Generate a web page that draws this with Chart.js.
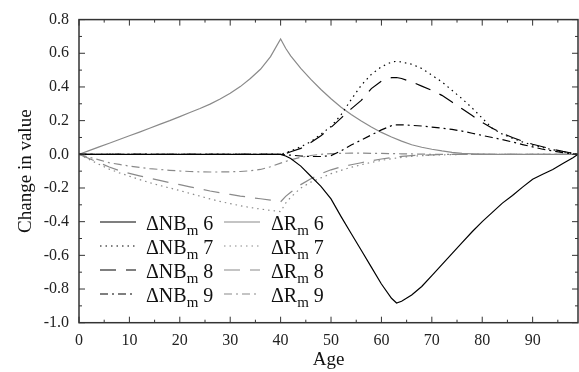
<!DOCTYPE html>
<html><head><meta charset="utf-8">
<script src="https://cdn.jsdelivr.net/npm/chart.js@4/dist/chart.umd.min.js"></script>
<style>html,body{margin:0;padding:0;background:#fff}#wrap{width:579px;height:372px}</style>
</head><body><div id="wrap"><canvas id="c" width="579" height="372"></canvas></div>
<script>
// ---- data ----
const ageNB = [0, 40, 41, 42, 44, 46, 48, 50, 52, 54, 56, 58, 60, 62, 63, 64, 66, 68, 70, 72, 74, 76, 78, 80, 82, 84, 86, 88, 90, 92, 94, 96, 98, 99];
const nb6 = [0, 0, -0.01, -0.025, -0.07, -0.13, -0.19, -0.265, -0.37, -0.47, -0.57, -0.67, -0.77, -0.855, -0.883, -0.873, -0.835, -0.785, -0.72, -0.655, -0.59, -0.525, -0.46, -0.40, -0.345, -0.29, -0.245, -0.195, -0.148, -0.118, -0.09, -0.055, -0.02, 0];
const nb7 = [0, 0, 0.01, 0.02, 0.045, 0.075, 0.12, 0.165, 0.235, 0.325, 0.41, 0.475, 0.52, 0.548, 0.552, 0.548, 0.535, 0.51, 0.47, 0.43, 0.38, 0.33, 0.275, 0.215, 0.155, 0.12, 0.095, 0.073, 0.055, 0.04, 0.027, 0.015, 0.005, 0];
const nb8 = [0, 0, 0.005, 0.015, 0.035, 0.07, 0.11, 0.16, 0.215, 0.27, 0.32, 0.39, 0.435, 0.455, 0.456, 0.45, 0.43, 0.405, 0.38, 0.35, 0.31, 0.27, 0.23, 0.19, 0.155, 0.125, 0.1, 0.078, 0.06, 0.045, 0.03, 0.017, 0.006, 0];
const nb9 = [0, 0, -0.003, -0.005, -0.01, -0.013, -0.013, -0.008, 0.02, 0.055, 0.085, 0.115, 0.145, 0.17, 0.175, 0.175, 0.172, 0.168, 0.162, 0.155, 0.148, 0.138, 0.125, 0.112, 0.1, 0.087, 0.073, 0.058, 0.044, 0.03, 0.02, 0.01, 0.003, 0];

const ageR = [0, 2, 4, 6, 8, 10, 12, 14, 16, 18, 20, 22, 24, 26, 28, 30, 32, 34, 36, 38, 40, 41, 42, 44, 46, 48, 50, 52, 54, 56, 58, 60, 62, 64, 66, 68, 70, 72, 74, 76, 78, 80, 82, 84, 86, 88, 90, 92, 94, 96, 98, 99];
const r6 = [0, 0.022, 0.044, 0.066, 0.088, 0.11, 0.132, 0.155, 0.178, 0.2, 0.224, 0.248, 0.272, 0.298, 0.328, 0.362, 0.402, 0.45, 0.505, 0.58, 0.685, 0.63, 0.585, 0.51, 0.445, 0.385, 0.33, 0.28, 0.237, 0.198, 0.162, 0.13, 0.103, 0.078, 0.057, 0.042, 0.03, 0.02, 0.012, 0.006, 0.003, 0.001, 0, 0, 0, 0, 0, 0, 0, 0, 0, 0];
const r7 = [0, -0.03, -0.06, -0.088, -0.11, -0.13, -0.15, -0.168, -0.185, -0.2, -0.215, -0.232, -0.248, -0.265, -0.28, -0.293, -0.305, -0.316, -0.325, -0.333, -0.34, -0.29, -0.255, -0.2, -0.165, -0.14, -0.115, -0.095, -0.077, -0.062, -0.048, -0.036, -0.026, -0.018, -0.012, -0.008, -0.005, -0.003, -0.002, -0.001, 0, 0, 0, 0, 0, 0, 0, 0, 0, 0, 0, 0];
const r8 = [0, -0.025, -0.05, -0.075, -0.097, -0.113, -0.128, -0.142, -0.155, -0.168, -0.18, -0.193, -0.205, -0.218, -0.228, -0.238, -0.248, -0.256, -0.264, -0.272, -0.282, -0.25, -0.225, -0.18, -0.145, -0.115, -0.092, -0.075, -0.062, -0.05, -0.038, -0.028, -0.02, -0.012, -0.008, -0.005, -0.003, -0.001, 0, 0, 0, 0, 0, 0, 0, 0, 0, 0, 0, 0, 0, 0];
const r9 = [0, -0.018, -0.033, -0.05, -0.06, -0.07, -0.078, -0.085, -0.09, -0.095, -0.099, -0.102, -0.104, -0.105, -0.105, -0.104, -0.102, -0.098, -0.09, -0.074, -0.052, -0.042, -0.033, -0.018, -0.007, 0, 0.004, 0.006, 0.007, 0.007, 0.006, 0.005, 0.004, 0.003, 0.002, 0.001, 0, 0, 0, 0, 0, 0, 0, 0, 0, 0, 0, 0, 0, 0, 0, 0];

const seriesLabels = ['ΔNBₘ 6', 'ΔNBₘ 7', 'ΔNBₘ 8', 'ΔNBₘ 9', 'ΔRₘ 6', 'ΔRₘ 7', 'ΔRₘ 8', 'ΔRₘ 9'];
const xTicks = [0, 10, 20, 30, 40, 50, 60, 70, 80, 90];
const xMinor = [5, 15, 25, 35, 45, 55, 65, 75, 85, 95];
const yTicks = [-1.0, -0.8, -0.6, -0.4, -0.2, 0.0, 0.2, 0.4, 0.6, 0.8];
const yMinor = [-0.9, -0.7, -0.5, -0.3, -0.1, 0.1, 0.3, 0.5, 0.7];

// ---- styles ----
const BLACK = '#000000', GRAY = '#8a8a8a';
const DOT = [1.5, 4], DASH = [16, 10], DASHDOT = [8, 4, 2, 4];
const styles = [
  {c: BLACK, d: []}, {c: BLACK, d: DOT}, {c: BLACK, d: DASH}, {c: BLACK, d: DASHDOT},
  {c: GRAY, d: []}, {c: GRAY, d: DOT}, {c: GRAY, d: DASH}, {c: GRAY, d: DASHDOT}
];
const ys = [nb6, nb7, nb8, nb9, r6, r7, r8, r9];
const xs = [ageNB, ageNB, ageNB, ageNB, ageR, ageR, ageR, ageR];

const datasets = ys.map((vals, i) => ({
  label: seriesLabels[i],
  data: xs[i].map((a, k) => ({x: a, y: vals[k]})),
  borderColor: styles[i].c,
  borderDash: styles[i].d,
  borderWidth: 1.2,
  pointRadius: 0,
  tension: 0,
  fill: false
}));

const SERIF = '"Liberation Serif", "DejaVu Serif", serif';

const framePlugin = {
  id: 'frame',
  afterDatasetsDraw(chart) {
    const {ctx, chartArea: a, scales: {x, y}} = chart;
    ctx.save();
    ctx.strokeStyle = '#333';
    ctx.lineWidth = 1;
    ctx.beginPath();
    const tick = (p, len, vert) => {
      if (vert) {
        ctx.moveTo(p, a.bottom); ctx.lineTo(p, a.bottom - len);
        ctx.moveTo(p, a.top); ctx.lineTo(p, a.top + len);
      } else {
        ctx.moveTo(a.left, p); ctx.lineTo(a.left + len, p);
        ctx.moveTo(a.right, p); ctx.lineTo(a.right - len, p);
      }
    };
    xTicks.forEach(v => tick(x.getPixelForValue(v), 6, true));
    xMinor.forEach(v => tick(x.getPixelForValue(v), 3, true));
    yTicks.forEach(v => tick(y.getPixelForValue(v), 6, false));
    yMinor.forEach(v => tick(y.getPixelForValue(v), 3, false));
    ctx.stroke();
    ctx.lineWidth = 1.5;
    ctx.strokeRect(a.left, a.top, a.right - a.left, a.bottom - a.top);
    ctx.restore();
  }
};

const legendPlugin = {
  id: 'customLegend',
  afterDraw(chart) {
    const {ctx} = chart;
    const cols = [{lx: 100, tx: 146}, {lx: 224, tx: 271}];
    const rows = [222, 246, 270, 294];
    ctx.save();
    chart.data.datasets.forEach((ds, i) => {
      const col = cols[Math.floor(i / 4)];
      const yy = rows[i % 4];
      ctx.beginPath();
      ctx.setLineDash(ds.borderDash);
      ctx.strokeStyle = ds.borderColor;
      ctx.lineWidth = 1.2;
      ctx.moveTo(col.lx, yy);
      ctx.lineTo(col.lx + 36, yy);
      ctx.stroke();
      ctx.setLineDash([]);
      const parts = ds.label.split('ₘ');
      ctx.fillStyle = '#111';
      ctx.textBaseline = 'alphabetic';
      ctx.textAlign = 'left';
      let x = col.tx;
      const base = yy + 8;
      ctx.font = '20px ' + SERIF;
      ctx.fillText(parts[0], x, base);
      x += ctx.measureText(parts[0]).width;
      ctx.font = '15px ' + SERIF;
      ctx.fillText('m', x, base + 5);
      x += ctx.measureText('m').width;
      ctx.font = '20px ' + SERIF;
      ctx.fillText(parts[1], x, base);
    });
    ctx.restore();
  }
};

new Chart(document.getElementById('c'), {
  type: 'line',
  data: {datasets},
  options: {
    responsive: false,
    devicePixelRatio: 1,
    animation: false,
    events: [],
    layout: {padding: {top: 15, right: 1, left: 0, bottom: 0}},
    plugins: {legend: {display: false}, tooltip: {enabled: false}},
    scales: {
      x: {
        type: 'linear', min: 0, max: 99,
        grid: {display: false, drawTicks: false},
        border: {display: false},
        afterBuildTicks: s => { s.ticks = xTicks.map(v => ({value: v})); },
        afterFit: s => { s.height = 49.3; },
        ticks: {font: {family: SERIF, size: 16}, color: '#222', padding: 8, maxRotation: 0,
                callback: v => String(v)},
        title: {display: true, text: 'Age', font: {family: SERIF, size: 19}, color: '#111',
                padding: {top: 0, bottom: 1}}
      },
      y: {
        type: 'linear', min: -1.0, max: 0.8,
        grid: {display: false, drawTicks: false},
        border: {display: false},
        afterBuildTicks: s => { s.ticks = yTicks.map(v => ({value: v})); },
        afterFit: s => { s.width = 79; },
        ticks: {font: {family: SERIF, size: 16}, color: '#222', padding: 10,
                callback: v => Number(v).toFixed(1)},
        title: {display: true, text: 'Change in value', font: {family: SERIF, size: 19}, color: '#111',
                padding: {top: 15, bottom: 0}}
      }
    }
  },
  plugins: [framePlugin, legendPlugin]
});
</script>
</body></html>
